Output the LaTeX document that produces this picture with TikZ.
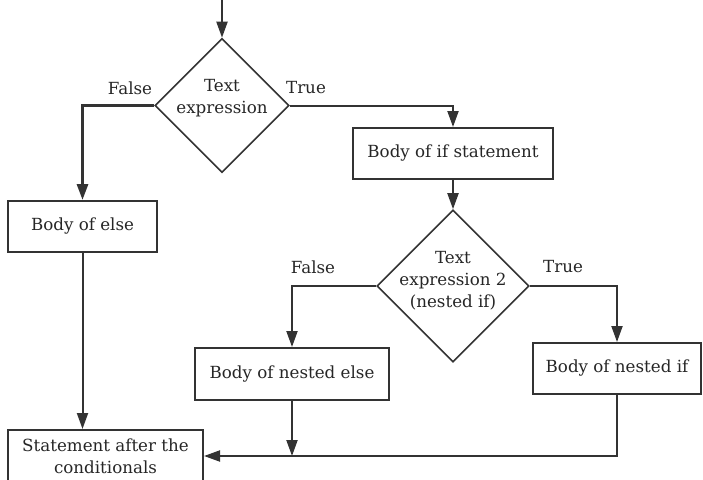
\documentclass[tikz,border=0pt]{standalone}
\usepackage{fontspec}
\setmainfont{DejaVu Serif}
\usetikzlibrary{shapes.geometric,arrows.meta}
\definecolor{ink}{HTML}{333333}
\begin{document}
\begin{tikzpicture}[x=1pt,y=-1pt,
  every node/.style={font=\fontsize{16.7}{22}\selectfont, text=black!85},
  stepbox/.style={draw=ink, line width=2pt, rectangle, inner sep=0pt},
  test/.style={draw=ink, line width=1.6pt, diamond, aspect=1, inner sep=0pt, minimum size=#1},
  lbl/.style={align=center, inner sep=0pt},
  arr/.style={draw=ink, line width=2pt, -{Triangle[length=16pt,width=11pt]}},
  heavy/.style={line width=3pt}]
\useasboundingbox (0,0) rectangle (703,479);
\clip (0,0) rectangle (703,479);

% entry point
\coordinate (start) at (222,0);

% first decision
\node[test=134] (d1) at (222,105.5) {};
\node[lbl] (d1t) at (222,98) {Text\\expression};
\node[lbl] (f1) at (130,88) {False};
\node[lbl] (t1) at (306,88) {True};

% branch bodies
\node[stepbox, minimum width=149pt, minimum height=51pt] (else) at (82.5,226.5) {Body of else};
\node[stepbox, minimum width=200pt, minimum height=51pt] (ifb) at (453,153.5) {Body of if statement};

% nested decision
\node[test=152] (d2) at (453,286) {};
\node[lbl] (d2t) at (453,281) {Text\\expression 2\\(nested if)};
\node[lbl] (f2) at (313,267) {False};
\node[lbl] (t2) at (563,267) {True};

\node[stepbox, minimum width=194pt, minimum height=52pt] (nelse) at (292,374) {Body of nested else};
\node[stepbox, minimum width=168pt, minimum height=51pt] (nif) at (617,368.5) {Body of nested if};

% join
\node[stepbox, align=center, minimum width=195pt, minimum height=52pt] (stmt) at (105.5,456) {Statement after the\\conditionals};

% connectors
\draw[arr] (start) -- (d1.north);
\draw[arr, heavy] (d1.west) -| (else.north);
\draw[arr] (d1.east) -| (ifb.north);
\draw[arr] (ifb.south) -- (d2.north);
\draw[arr] (d2.west) -| (nelse.north);
\draw[arr] (d2.east) -| (nif.north);
\draw[arr] (else.south) -- (else.south |- stmt.north);
\draw[arr] (nif.south) |- (stmt.east);
\draw[arr] (nelse.south) -- (nelse.south |- stmt.east);
\end{tikzpicture}
\end{document}
